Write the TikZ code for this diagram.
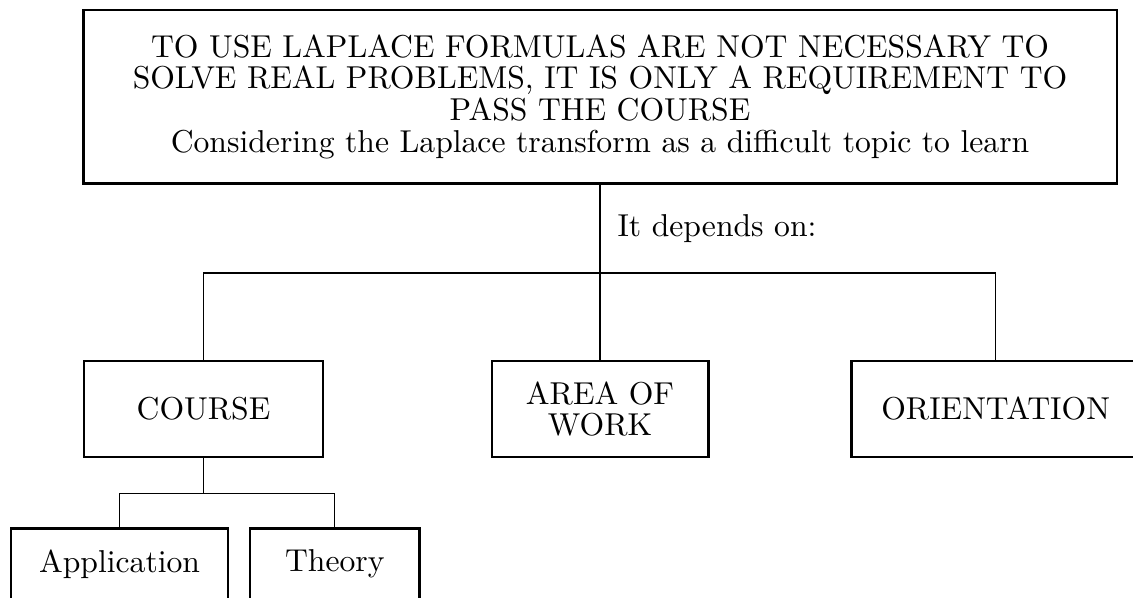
\documentclass[tikz,border=0pt]{standalone}
\usepackage{amsmath}
\usepackage{tikz}
\usetikzlibrary{positioning}

\tikzset{
  box/.style={draw, thick, align=center, font=\fontsize{10pt}{10pt}\selectfont,
    inner sep=2pt, minimum height=30.24pt},
  small/.style={box, minimum height=22.4pt},
}

\begin{document}
\begin{tikzpicture}[on grid, font=\fontsize{10pt}{10pt}\selectfont]
	  \useasboundingbox (0,0) rectangle (358pt,-188.66pt);

	  \node[box, minimum width=326.6pt, minimum height=54.8pt] (title) at (189.6pt,-30.56pt)
	    {TO USE LAPLACE FORMULAS ARE NOT NECESSARY TO\\
	     SOLVE REAL PROBLEMS, IT IS ONLY A REQUIREMENT TO\\
	     PASS THE COURSE\\
	     Considering the Laplace transform as a difficult topic to learn} ; %
	  \node[box, minimum width=75.65pt, below left=98.65pt and 125.3pt of title] (course) {COURSE};
          \node[box, minimum width=68.4pt, below=98.65pt of title] (area) {AREA OF\\ WORK} ; %
          \node[box, minimum width=91pt, below right=98.65pt and 125pt of title] (orient) {ORIENTATION};
          \node[small, minimum width=68.6pt, below left=48.95pt and 26.5pt of course] (app) {Application};
          \node[small, minimum width=53.5pt, right=68pt of app] (theory) {Theory};

          \coordinate[below=27.9pt of title.south] (fork) ; %
          \coordinate[below=11.25pt of course.south] (split) ;

          \draw (title.south) -- (fork) node[midway, right=2pt] (dep) {It depends on:} ; %
          \draw (course.north) |- (fork) -| (orient.north) ;
          \draw (area.north) -- (area.north |- fork) ;
          \draw (course.south) -- (split) ;
          \draw (app.north) |- (split) -| (theory.north) ;

	\end{tikzpicture}
\end{document}
